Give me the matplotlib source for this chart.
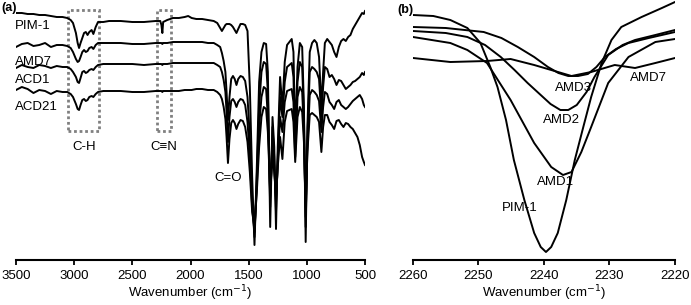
import matplotlib
matplotlib.use("Agg")
import matplotlib.pyplot as plt
from matplotlib.patches import Rectangle

plt.rcParams['font.family'] = ['Liberation Sans', 'DejaVu Sans']
plt.rcParams['font.size'] = 9.5

# ---- panel (a): full spectra, transmittance in arbitrary (offset) units
wn_a = [3500, 3450, 3400, 3350, 3300, 3250, 3200, 3150, 3100, 3060,
        3030, 3010, 2985, 2970, 2958, 2945, 2930, 2915, 2900, 2885,
        2870, 2850, 2835, 2815, 2795, 2750, 2700, 2600, 2500, 2400,
        2300, 2260, 2250, 2242, 2235, 2200, 2150, 2100, 2050, 2020,
        1990, 1950, 1900, 1850, 1800, 1770, 1745, 1730, 1715, 1700,
        1690, 1678, 1665, 1650, 1635, 1620, 1605, 1590, 1570, 1550,
        1530, 1510, 1490, 1470, 1450, 1430, 1410, 1390, 1370, 1350,
        1335, 1315, 1295, 1280, 1265, 1250, 1230, 1210, 1190, 1170,
        1150, 1130, 1115, 1100, 1080, 1060, 1040, 1025, 1010, 995,
        975, 955, 935, 915, 895, 875, 860, 845, 825, 805,
        785, 765, 745, 725, 705, 685, 665, 645, 625, 605,
        585, 565, 545, 525, 510, 500]

pim1_a = [244, 244, 243, 243, 242, 242, 241, 240, 240, 239,
          237, 234, 224, 214, 209, 214, 219, 224, 225, 222,
          225, 227, 223, 230, 235, 235, 236, 236, 235, 235,
          236, 236, 232, 224, 235, 237, 239, 239, 240, 241,
          239, 238, 238, 237, 236, 234, 229, 226, 229, 232,
          233, 233, 233, 232, 230, 227, 224, 228, 233, 233,
          232, 226, 170, 80, 12, 90, 175, 205, 214, 213,
          185, 30, 140, 110, 28, 110, 180, 150, 195, 212,
          215, 218, 205, 120, 190, 214, 210, 150, 15, 130,
          205, 214, 217, 214, 200, 150, 185, 214, 218, 215,
          212, 205, 200, 210, 216, 218, 216, 220, 222, 228,
          232, 236, 240, 244, 243, 246]

amd7_a = [210, 213, 214, 211, 212, 214, 210, 212, 212, 211,
          209, 205, 198, 195, 196, 200, 205, 207, 205, 206,
          209, 210, 208, 212, 214, 214, 214, 214, 213, 213,
          214, 214, 214, 213, 214, 214, 215, 215, 215, 215,
          215, 215, 215, 214, 214, 212, 210, 204, 196, 185,
          165, 137, 160, 178, 181, 178, 172, 178, 181, 180,
          176, 160, 120, 60, 20, 80, 150, 185, 195, 193,
          165, 50, 130, 100, 45, 100, 160, 140, 175, 190,
          192, 194, 180, 110, 175, 195, 190, 140, 30, 120,
          185, 190, 188, 185, 178, 140, 170, 190, 188, 180,
          182, 178, 172, 177, 176, 172, 168, 170, 172, 175,
          176, 178, 180, 184, 182, 185]

acd1_a = [189, 192, 190, 189, 192, 191, 189, 191, 190, 190,
          188, 185, 180, 175, 174, 179, 185, 186, 184, 185,
          187, 188, 187, 190, 192, 193, 193, 193, 193, 192,
          193, 193, 193, 192, 193, 193, 194, 194, 194, 194,
          194, 194, 194, 194, 194, 192, 190, 185, 177, 165,
          145, 115, 140, 156, 158, 155, 150, 155, 158, 157,
          152, 135, 100, 50, 25, 70, 130, 160, 170, 168,
          140, 60, 115, 90, 55, 95, 140, 125, 155, 166,
          167, 168, 155, 100, 160, 170, 165, 125, 40, 110,
          162, 167, 165, 162, 156, 125, 150, 165, 163, 155,
          152, 148, 155, 157, 152, 150, 148, 150, 153, 156,
          158, 160, 162, 158, 152, 150]

acd21_a = [167, 170, 168, 164, 167, 166, 163, 166, 165, 165,
           163, 160, 153, 148, 147, 152, 157, 158, 156, 157,
           160, 161, 160, 163, 165, 166, 166, 166, 165, 165,
           166, 166, 166, 165, 166, 166, 166, 166, 167, 167,
           167, 168, 168, 167, 167, 165, 162, 158, 150, 138,
           120, 94, 118, 134, 137, 134, 128, 133, 137, 136,
           130, 115, 85, 45, 30, 65, 110, 140, 150, 148,
           125, 65, 100, 85, 60, 90, 120, 98, 135, 146,
           147, 148, 135, 95, 140, 150, 145, 115, 50, 105,
           142, 144, 142, 140, 135, 105, 130, 142, 142, 135,
           132, 128, 136, 137, 133, 130, 134, 133, 130, 128,
           124, 120, 112, 100, 95, 92]

names_a = ['PIM-1', 'AMD7', 'ACD1', 'ACD21']
label_y_a = [231, 195, 177, 150]

# ---- panel (b): nitrile region
wn_pim1_b = [2260, 2256.9, 2254.3, 2251.7, 2249.7, 2248.2, 2247.1, 2245.8, 2244.6,
             2243.0, 2241.5, 2240.5, 2239.7, 2238.9, 2237.9, 2236.6, 2235.3, 2234.0,
             2232.8, 2231.2, 2229.7, 2228.2, 2225.1, 2222.0, 2220]
t_pim1_b = [242, 241, 237, 229, 214, 190, 170, 137, 97,
            57, 24, 10, 5, 10, 24, 57, 97, 130,
            160, 194, 217, 230, 240, 249, 255]

wn_amd1_b = [2260, 2254.3, 2251.7, 2248.7, 2245.1, 2241.5, 2238.9, 2237.1, 2235.8,
             2234.3, 2232.8, 2230.2, 2227.1, 2223.0, 2220]
t_amd1_b = [220, 214, 207, 194, 157, 114, 90, 82, 85,
            105, 130, 174, 200, 215, 218]

wn_amd2_b = [2260, 2255, 2251.7, 2249, 2246.6, 2244.5, 2242.5, 2240.5, 2239.0, 2237.5,
             2236.3, 2235.0, 2233.5, 2232.3, 2230.2, 2228, 2226.1, 2223, 2220]
t_amd2_b = [226, 224, 220, 212, 200, 187, 174, 162, 153, 147,
            147, 152, 165, 180, 202, 212, 217, 222, 227]

wn_amd3_b = [2260, 2255, 2249.2, 2246.5, 2244, 2241.5, 2239.4, 2237.8, 2236.3, 2234.8,
             2233.3, 2232, 2230.7, 2229, 2227.1, 2224, 2220]
t_amd3_b = [230, 229, 225, 219, 210, 200, 190, 184, 181, 181,
            183, 190, 200, 208, 214, 219, 225]

wn_amd7_b = [2260, 2254.3, 2248.7, 2245.1, 2241.5, 2238.9, 2235.8, 2232.8, 2229.2,
             2226.1, 2223, 2220]
t_amd7_b = [199, 195, 196, 198, 192, 187, 181, 185, 192, 189, 194, 199]


fig = plt.figure(figsize=(6.91, 3.05), dpi=100)
ax1 = fig.add_axes([16 / 691, 45 / 305, 349 / 691, 260 / 305])
ax2 = fig.add_axes([413 / 691, 45 / 305, 262 / 691, 260 / 305])

for ax in (ax1, ax2):
    for s in ('left', 'right', 'top'):
        ax.spines[s].set_visible(False)
    ax.spines['bottom'].set_linewidth(1.5)
    ax.set_yticks([])
    ax.tick_params(axis='x', direction='out', length=3.5, width=1.3, pad=4,
                   labelsize=9.5)
    ax.set_ylim(-3, 257)
    ax.set_xlabel('Wavenumber (cm$^{-1}$)', fontsize=9.5, labelpad=1)

lw = 1.4
for t in (pim1_a, amd7_a, acd1_a, acd21_a):
    ax1.plot(wn_a, t, color='black', lw=lw, solid_joinstyle='round')
ax1.set_xlim(3500, 500)
ax1.set_xticks(range(3500, 499, -500))

for n, y in zip(names_a, label_y_a):
    ax1.text(3508, y, n, ha='left', va='center')

box_kw = dict(fill=False, edgecolor='#808080', lw=2.0, linestyle=(0, (1, 1)))
ax1.add_patch(Rectangle((3053, 126), 2786 - 3053, 121, **box_kw))
ax1.add_patch(Rectangle((2287, 126), 2167 - 2287, 121, **box_kw))
ax1.text(2915, 110, 'C-H', ha='center', va='center')
ax1.text(2227, 110, 'C\u2261N', ha='center', va='center')
ax1.text(1677, 79, 'C=O', ha='center', va='center')

for w, t in ((wn_pim1_b, t_pim1_b), (wn_amd1_b, t_amd1_b), (wn_amd2_b, t_amd2_b),
             (wn_amd3_b, t_amd3_b), (wn_amd7_b, t_amd7_b)):
    ax2.plot(w, t, color='black', lw=lw, solid_joinstyle='round')
ax2.set_xlim(2260, 2220)
ax2.set_xticks(range(2260, 2219, -10))

ax2.text(2235.5, 169, 'AMD3', ha='center', va='center')
ax2.text(2237.4, 137, 'AMD2', ha='center', va='center')
ax2.text(2238.2, 75, 'AMD1', ha='center', va='center')
ax2.text(2243.7, 49, 'PIM-1', ha='center', va='center')
ax2.text(2224.0, 179, 'AMD7', ha='center', va='center')

fig.text(1 / 691, 1 - 8 / 305, '(a)', fontweight='bold', fontsize=9, ha='left', va='center')
fig.text(397 / 691, 1 - 10 / 305, '(b)', fontweight='bold', fontsize=9, ha='left', va='center')

fig.savefig('out.png', dpi=100)
